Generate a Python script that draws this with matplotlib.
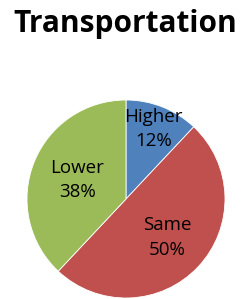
import matplotlib
matplotlib.use("Agg")
import matplotlib.pyplot as plt
import numpy as np

title = "Transportation"
categories = ["Higher", "Same", "Lower"]
values = [12, 50, 38]
colors = ["#4F81BD", "#C0504D", "#9BBB59"]
label_dist = [0.76, 0.57, 0.53]

W, H = 243, 299
fig = plt.figure(figsize=(W / 100, H / 100), dpi=100)
fig.patch.set_facecolor("white")

cx, cy, r = 126, 199, 99
ax = fig.add_axes([(cx - r) / W, (H - cy - r) / H, 2 * r / W, 2 * r / H])
wedges, _ = ax.pie(values, colors=colors, startangle=90, counterclock=False,
                   radius=1, wedgeprops=dict(edgecolor="white", linewidth=0.6))
ax.set_xlim(-1, 1)
ax.set_ylim(-1, 1)
ax.set_aspect("auto")
ax.axis("off")

total = sum(values)
for w, cat, v, d in zip(wedges, categories, values, label_dist):
    mid = np.deg2rad((w.theta1 + w.theta2) / 2)
    ax.text(d * np.cos(mid), d * np.sin(mid), f"{cat}\n{round(100 * v / total)}%",
            ha="center", va="center", fontsize=13.5, family="Open Sans",
            color="black", linespacing=1.45)

fig.text(125 / W, 1 - 32 / H, title, ha="center", va="baseline", fontsize=21.5,
         fontweight="bold", family="Open Sans")

fig.savefig("out.png", dpi=100)
